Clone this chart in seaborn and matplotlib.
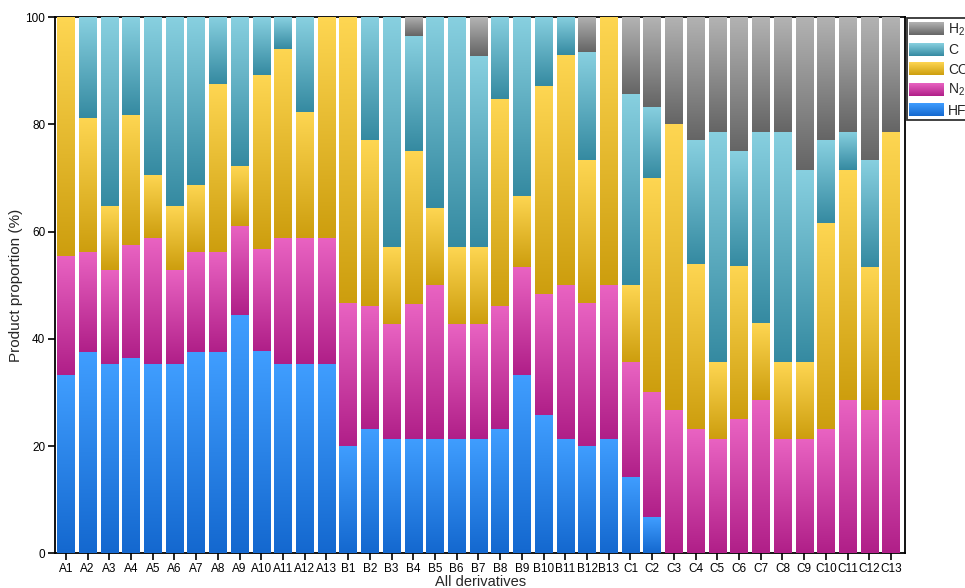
import numpy as np
import matplotlib
matplotlib.use('Agg')
import matplotlib.pyplot as plt
import seaborn as sns
from matplotlib.colors import LinearSegmentedColormap
from matplotlib.patches import Patch

# Derivative names (x categories)
derivatives = ['A1', 'A2', 'A3', 'A4', 'A5', 'A6', 'A7', 'A8', 'A9', 'A10', 'A11', 'A12', 'A13',
               'B1', 'B2', 'B3', 'B4', 'B5', 'B6', 'B7', 'B8', 'B9', 'B10', 'B11', 'B12', 'B13',
               'C1', 'C2', 'C3', 'C4', 'C5', 'C6', 'C7', 'C8', 'C9', 'C10', 'C11', 'C12', 'C13']

# Product proportions (%), stacked bottom -> top
hf = [33.3, 37.5, 35.3, 36.4, 35.3, 35.3, 37.5, 37.5, 44.4, 37.8, 35.3, 35.3, 35.3,
      20.0, 23.1, 21.4, 21.4, 21.4, 21.4, 21.4, 23.1, 33.3, 25.8, 21.4, 20.0, 21.4,
      14.3, 6.7, 0, 0, 0, 0, 0, 0, 0, 0, 0, 0, 0]
n2 = [22.2, 18.75, 17.6, 21.1, 23.5, 17.6, 18.75, 18.75, 16.7, 19.0, 23.5, 23.5, 23.5,
      26.7, 23.1, 21.4, 25.0, 28.6, 21.4, 21.4, 23.1, 20.0, 22.6, 28.6, 26.7, 28.6,
      21.4, 23.3, 26.7, 23.1, 21.4, 25.0, 28.6, 21.4, 21.4, 23.1, 28.6, 26.7, 28.6]
co = [44.5, 25.0, 11.8, 24.3, 11.8, 11.8, 12.5, 31.25, 11.1, 32.4, 35.3, 23.5, 41.2,
      53.3, 30.8, 14.3, 28.6, 14.3, 14.3, 14.3, 38.5, 13.3, 38.7, 42.9, 26.7, 50.0,
      14.3, 40.0, 53.3, 30.8, 14.3, 28.6, 14.3, 14.3, 14.3, 38.5, 42.9, 26.7, 50.0]
c = [0, 18.75, 35.3, 18.2, 29.4, 35.3, 31.25, 12.5, 27.8, 10.8, 5.9, 17.6, 0,
     0, 23.1, 42.9, 21.4, 35.7, 42.9, 35.7, 15.4, 33.4, 12.9, 7.1, 20.0, 0,
     35.7, 13.3, 0, 23.1, 42.9, 21.4, 35.7, 42.9, 35.7, 15.4, 7.1, 20.0, 0]
h2 = [0, 0, 0, 0, 0, 0, 0, 0, 0, 0, 0, 0, 0,
      0, 0, 0, 3.6, 0, 0, 7.1, 0, 0, 0, 0, 6.7, 0,
      14.3, 16.7, 20.0, 23.1, 21.4, 25.0, 21.4, 21.4, 28.6, 23.1, 21.4, 26.7, 21.4]

layer_names = ['HF', 'N$_2$', 'CO', 'C', 'H$_2$']
layer_values = [hf, n2, co, c, h2]
# (dark bottom, light top) gradient colours per product
layer_colors = [('#1468cf', '#409eff'),
                ('#b01f88', '#e963c2'),
                ('#cd9e0e', '#fed652'),
                ('#358aa1', '#88d0e0'),
                ('#656565', '#b3b3b3')]

sns.set_style('ticks')
plt.rcParams['font.family'] = ['Liberation Sans', 'DejaVu Sans']
plt.rcParams['mathtext.fontset'] = 'custom'
plt.rcParams['mathtext.rm'] = 'Liberation Sans'
plt.rcParams['mathtext.it'] = 'Liberation Sans:italic'

fig = plt.figure(figsize=(9.65, 5.88), dpi=100)
ax = fig.add_axes([0.057, 0.059, 0.881, 0.912])

vals = np.array(layer_values, dtype=float)
tops = np.cumsum(vals, axis=0)
bottoms = tops - vals

# overlapping cumulative bars, drawn from the top layer down
containers = {}
for i in range(len(layer_names) - 1, -1, -1):
    mid = layer_colors[i][1]
    sns.barplot(x=derivatives, y=tops[i], color=mid, saturation=1, width=0.8,
                errorbar=None, linewidth=0, ax=ax)
    containers[i] = ax.containers[-1]

# gradient fill for each visible segment
grad = np.linspace(0, 1, 256).reshape(-1, 1)
cmaps = [LinearSegmentedColormap.from_list(f'g{i}', cols) for i, cols in enumerate(layer_colors)]
for i in range(len(layer_names)):
    for j, patch in enumerate(containers[i]):
        if vals[i, j] <= 0:
            continue
        x0 = patch.get_x()
        w = patch.get_width()
        ax.imshow(grad, extent=[x0, x0 + w, bottoms[i, j], tops[i, j]], cmap=cmaps[i],
                  origin='lower', aspect='auto', interpolation='bilinear', zorder=3)

ax.set_xlim(-0.5, len(derivatives) - 0.35)
ax.set_ylim(0, 100)
ax.set_yticks([0, 20, 40, 60, 80, 100])
ax.set_xticks(range(len(derivatives)))
ax.set_xticklabels(derivatives)
ax.tick_params(axis='both', direction='out', length=5, width=1.2, colors='black',
               labelsize=8.5, pad=2)
for s in ax.spines.values():
    s.set_visible(True)
    s.set_color('black')
    s.set_linewidth(1.3)
ax.set_xlabel('All derivatives', fontsize=10.5, labelpad=0)
ax.set_ylabel('Product proportion (%)', fontsize=11, labelpad=2)

# legend, top layer first
handles = [Patch(facecolor=layer_colors[i][1], edgecolor='none', label=layer_names[i])
           for i in range(len(layer_names) - 1, -1, -1)]
leg = ax.legend(handles=handles, loc='upper left', bbox_to_anchor=(1.0, 1.0),
                frameon=True, fancybox=False, fontsize=10, handlelength=2.5,
                handleheight=1.05, labelspacing=0.38, handletextpad=0.3,
                borderpad=0.2, borderaxespad=0.1)
leg.get_frame().set_edgecolor('black')
leg.get_frame().set_linewidth(1.3)

# paint gradients on the legend handles
fig.canvas.draw()
inv = fig.transFigure.inverted()
order = list(range(len(layer_names) - 1, -1, -1))
for k, p in zip(order, leg.get_patches()):
    bb = p.get_window_extent().transformed(inv)
    hax = fig.add_axes([bb.x0, bb.y0, bb.width, bb.height])
    hax.imshow(grad, cmap=cmaps[k], origin='lower', aspect='auto', interpolation='bilinear')
    hax.axis('off')

fig.savefig('out.png', dpi=100)
